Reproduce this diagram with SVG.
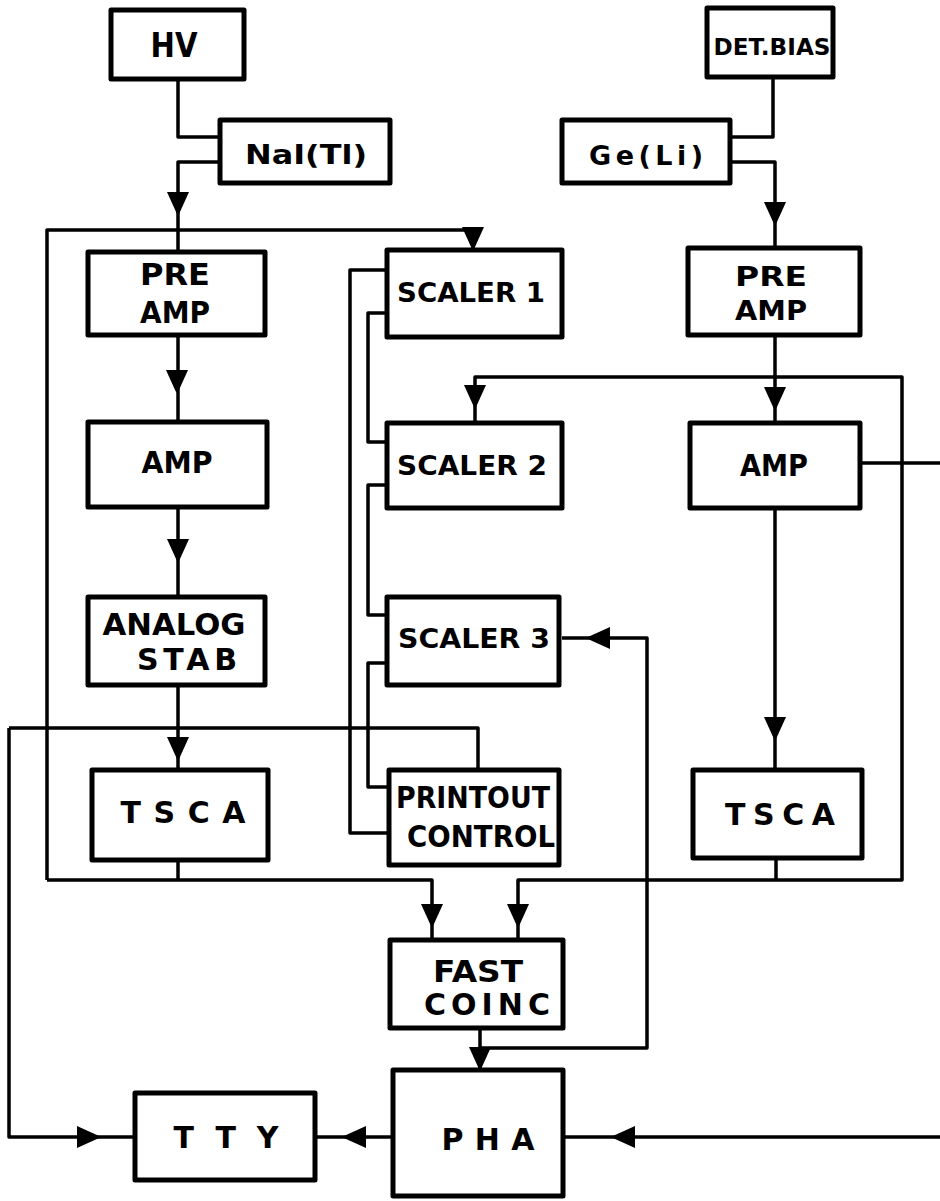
<svg xmlns="http://www.w3.org/2000/svg" width="940" height="1201" viewBox="0 0 940 1201">
<style>
.box{fill:#fff;stroke:#000;stroke-width:5;stroke-linejoin:round}
.ln{fill:none;stroke:#000;stroke-width:3.5;stroke-linejoin:round}
text{font-family:"DejaVu Sans","Liberation Sans",Arial,sans-serif;font-weight:bold;fill:#000;text-anchor:middle}
.f30{font-size:30px}
.f27{font-size:27px}
</style>
<defs>
<path id="ah" d="M-11,-23 L11,-23 L1.5,-2 L0,0 L-1.5,-2 Z" fill="#000"/>
</defs>
<rect width="940" height="1201" fill="#fff"/>
<g id="connectors">
<path class="ln" d="M178 79 V137 H220"/>
<path class="ln" d="M220 162 H178 V252"/>
<path class="ln" d="M47 880 V230 H473 V250"/>
<path class="ln" d="M178 335 V422"/>
<path class="ln" d="M178 507 V597"/>
<path class="ln" d="M178 685 V770"/>
<path class="ln" d="M178 860 V880"/>
<path class="ln" d="M47 880 H432 V940"/>
<path class="ln" d="M776 858 V880"/>
<path class="ln" d="M518 940 V880 H902 V377 H475 V423"/>
<path class="ln" d="M773 77 V137 H730"/>
<path class="ln" d="M730 162 H775 V248"/>
<path class="ln" d="M775 335 V423"/>
<path class="ln" d="M775 508 V770"/>
<path class="ln" d="M860 463 H940"/>
<path class="ln" d="M940 1137 H563"/>
<path class="ln" d="M393 1137 H315"/>
<path class="ln" d="M9 728 V1137 H135"/>
<path class="ln" d="M9 728 H478 V770"/>
<path class="ln" d="M480 1028 V1070"/>
<path class="ln" d="M480 1048 H647 V638 H562"/>
<path class="ln" d="M387 270 H350 V833 H389"/>
<path class="ln" d="M387 313 H368 V442 H387"/>
<path class="ln" d="M387 485 H368 V615 H387"/>
<path class="ln" d="M387 663 H368 V787 H389"/>
<use href="#ah" transform="translate(178,215)"/>
<use href="#ah" transform="translate(473,250)"/>
<use href="#ah" transform="translate(177,393)"/>
<use href="#ah" transform="translate(178,562)"/>
<use href="#ah" transform="translate(178,760)"/>
<use href="#ah" transform="translate(432,927)"/>
<use href="#ah" transform="translate(518,927)"/>
<use href="#ah" transform="translate(475,408)"/>
<use href="#ah" transform="translate(775,225)"/>
<use href="#ah" transform="translate(775,410)"/>
<use href="#ah" transform="translate(775,740)"/>
<use href="#ah" transform="translate(480,1070)"/>
<use href="#ah" transform="translate(587,638) rotate(90)"/>
<use href="#ah" transform="translate(612,1137) rotate(90)"/>
<use href="#ah" transform="translate(343,1137) rotate(90)"/>
<use href="#ah" transform="translate(100,1137) rotate(-90)"/>
</g>
<g id="hv"><rect class="box" x="111" y="10" width="133" height="69"/><text x="174" y="57" font-size="33" textLength="47" lengthAdjust="spacingAndGlyphs">HV</text></g>
<g id="nai"><rect class="box" x="220" y="120" width="170" height="63"/><text x="306" y="164" font-size="27" textLength="122" lengthAdjust="spacingAndGlyphs">NaI(Tl)</text></g>
<g id="detbias"><rect class="box" x="707" y="8" width="126" height="69"/><text x="772" y="55" font-size="23" textLength="117" lengthAdjust="spacingAndGlyphs">DET.BIAS</text></g>
<g id="geli"><rect class="box" x="562" y="120" width="168" height="63"/><text x="646" y="165" font-size="27" textLength="114" lengthAdjust="spacing">Ge(Li)</text></g>
<g id="preamp1"><rect class="box" x="88" y="252" width="177" height="83"/><text class="f30" x="175" y="285" textLength="70" lengthAdjust="spacingAndGlyphs">PRE</text><text class="f30" x="175" y="323" textLength="70" lengthAdjust="spacingAndGlyphs">AMP</text></g>
<g id="amp1"><rect class="box" x="88" y="422" width="179" height="85"/><text class="f30" x="177" y="473" textLength="71" lengthAdjust="spacingAndGlyphs">AMP</text></g>
<g id="analogstab"><rect class="box" x="88" y="597" width="177" height="88"/><text class="f30" x="174" y="635" textLength="143" lengthAdjust="spacingAndGlyphs">ANALOG</text><text class="f30" x="187" y="670" textLength="100" lengthAdjust="spacing">STAB</text></g>
<g id="tsca1"><rect class="box" x="92" y="770" width="176" height="90"/><text class="f30" x="183" y="823" textLength="125" lengthAdjust="spacing">TSCA</text></g>
<g id="scaler1"><rect class="box" x="387" y="250" width="175" height="87"/><text class="f27" x="471" y="302" textLength="148" lengthAdjust="spacingAndGlyphs">SCALER 1</text></g>
<g id="scaler2"><rect class="box" x="387" y="423" width="175" height="85"/><text class="f27" x="472" y="475" textLength="150" lengthAdjust="spacingAndGlyphs">SCALER 2</text></g>
<g id="scaler3"><rect class="box" x="387" y="597" width="172" height="88"/><text class="f27" x="474" y="648" textLength="152" lengthAdjust="spacingAndGlyphs">SCALER 3</text></g>
<g id="printout"><rect class="box" x="389" y="770" width="170" height="95"/><text class="f30" x="473" y="808" textLength="154" lengthAdjust="spacingAndGlyphs">PRINTOUT</text><text class="f30" x="481" y="847" textLength="148" lengthAdjust="spacingAndGlyphs">CONTROL</text></g>
<g id="preamp2"><rect class="box" x="688" y="248" width="172" height="87"/><text class="f27" x="771" y="286" textLength="72" lengthAdjust="spacingAndGlyphs">PRE</text><text class="f27" x="771" y="320" textLength="72" lengthAdjust="spacingAndGlyphs">AMP</text></g>
<g id="amp2"><rect class="box" x="690" y="423" width="170" height="85"/><text class="f30" x="774" y="476" textLength="68" lengthAdjust="spacingAndGlyphs">AMP</text></g>
<g id="tsca2"><rect class="box" x="693" y="770" width="169" height="88"/><text class="f30" x="780" y="825" textLength="110" lengthAdjust="spacing">TSCA</text></g>
<g id="fastcoinc"><rect class="box" x="390" y="940" width="173" height="88"/><text class="f30" x="478" y="982" textLength="90" lengthAdjust="spacingAndGlyphs">FAST</text><text class="f30" x="487" y="1015" textLength="126" lengthAdjust="spacing">COINC</text></g>
<g id="pha"><rect class="box" x="393" y="1070" width="170" height="126"/><text class="f30" x="488" y="1150" textLength="93" lengthAdjust="spacing">PHA</text></g>
<g id="tty"><rect class="box" x="135" y="1093" width="180" height="87"/><text class="f30" x="226" y="1148" textLength="105" lengthAdjust="spacing">TTY</text></g>
</svg>
